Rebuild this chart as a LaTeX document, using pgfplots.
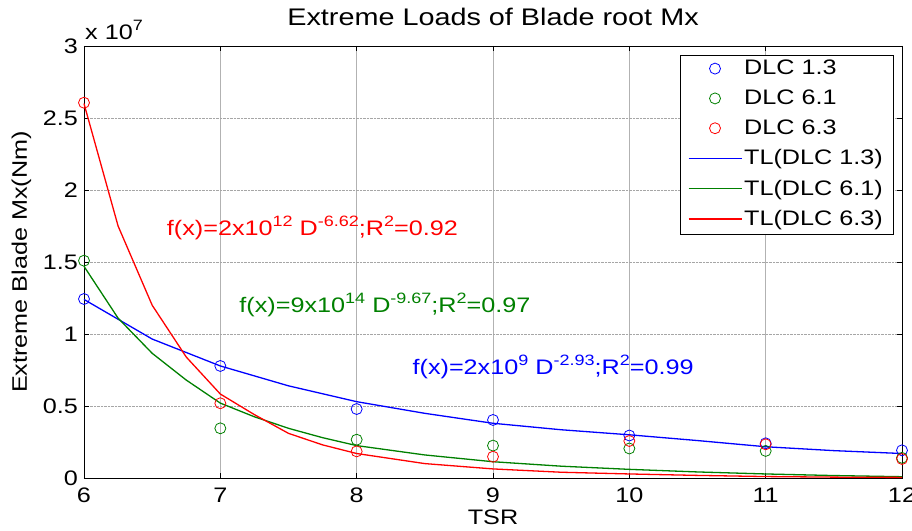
\documentclass[border=0pt]{standalone}
\usepackage{fontspec}
\setmainfont{Liberation Sans}[FakeStretch=1.2]
\usepackage{pgfplots}
\pgfplotsset{compat=1.18}
\definecolor{mblue}{rgb}{0,0,1}
\definecolor{mgreen}{rgb}{0,0.5,0}
\definecolor{mred}{rgb}{1,0,0}
\newcommand{\sups}[1]{\raisebox{9pt}{\fontsize{15}{15}\selectfont #1}}
\begin{document}
\fontsize{21}{24}\selectfont
\begin{tikzpicture}
\begin{axis}[
 scale only axis, width=818pt, height=432pt,
 xmin=6, xmax=12, ymin=0, ymax=3,
 clip=false,
 xtick={6,7,8,9,10,11,12},
 xticklabels={6,7,8,9,10,11,12},
 ytick={0,0.5,1,1.5,2,2.5,3},
 yticklabels={0,0.5,1,1.5,2,2.5,3},
 xticklabel style={yshift=-3pt},
 yticklabel style={xshift=1pt},
 tick align=inside, major tick length=5pt,
 tick style={black, line width=0.8pt},
 axis line style={black, line width=0.8pt},
 xmajorgrids, ymajorgrids,
 x grid style={gray!60, line width=0.8pt},
 y grid style={gray!70, densely dotted, line width=0.8pt},
 title={\fontsize{24}{26}\selectfont Extreme Loads of Blade root Mx},
 title style={at={(axis description cs:0.5,1.0347)}, anchor=base, inner sep=0pt, yshift=0pt},
 xlabel={TSR},
 xlabel style={at={(axis description cs:0.5,-0.1076)}, anchor=base, inner sep=0pt},
 ylabel={Extreme Blade Mx(Nm)},
 ylabel style={at={(axis description cs:-0.0697,0.5)}, anchor=base, inner sep=0pt},
 legend style={at={(axis description cs:1,1)}, anchor=north east, xshift=-9pt, yshift=-9pt,
   draw=black, fill=white, row sep=8pt, inner xsep=8pt, inner ysep=3pt,
   cells={anchor=west}},
 legend image code/.code={\draw[mark repeat=2,mark phase=2,#1] plot coordinates {(0pt,0.5pt) (26.5pt,0.5pt) (53pt,0.5pt)};},
]
\addplot[only marks, mark=o, mark size=5.5pt, color=mblue, line width=0.8pt] coordinates {
 (6,1.243) (7,0.778) (8,0.479) (9,0.403) (10,0.295) (11,0.241) (12,0.192)};
\addplot[only marks, mark=o, mark size=5.5pt, color=mgreen, line width=0.8pt] coordinates {
 (6,1.509) (7,0.345) (8,0.266) (9,0.225) (10,0.205) (11,0.188) (12,0.14)};
\addplot[only marks, mark=o, mark size=5.5pt, color=mred, line width=0.8pt] coordinates {
 (6,2.606) (7,0.519) (8,0.185) (9,0.148) (10,0.257) (11,0.234) (12,0.132)};
\addplot[no marks, draw=mblue, color=mblue, line width=1.3pt] coordinates {
 (6,1.24) (6.5,0.965) (7,0.778) (7.5,0.64) (8,0.53) (8.5,0.449) (9,0.38) (9.5,0.335)
 (10,0.30) (10.5,0.26) (11,0.217) (11.5,0.19) (12,0.17)};
\addplot[no marks, draw=mgreen, color=mgreen, line width=1.3pt] coordinates {
 (6,1.47) (6.25,1.11) (6.5,0.866) (6.75,0.68) (7,0.52) (7.25,0.425) (7.5,0.345) (7.75,0.28)
 (8,0.225) (8.5,0.16) (9,0.113) (9.5,0.082) (10,0.06) (10.5,0.042) (11,0.028) (11.5,0.017) (12,0.009)};
\addplot[no marks, draw=mred, color=mred, line width=1.3pt] coordinates {
 (6,2.6) (6.25,1.75) (6.5,1.2) (6.75,0.84) (7,0.583) (7.25,0.44) (7.5,0.31) (7.75,0.23)
 (8,0.17) (8.5,0.10) (9,0.063) (9.5,0.04) (10,0.028) (10.5,0.018) (11,0.01) (11.5,0.006) (12,0.004)};
\legend{DLC 1.3, DLC 6.1, DLC 6.3, TL(DLC 1.3), TL(DLC 6.1), TL(DLC 6.3)}
\node[anchor=base west, inner sep=0pt] at (rel axis cs:0,1) [yshift=6pt, xshift=1pt] {x 10\sups{7}};
\node[anchor=west, text=mred, inner sep=0pt] at (axis cs:6.607,1.736) {f(x)=2x10\sups{12} D\sups{-6.62};R\sups{2}=0.92};
\node[anchor=west, text=mgreen, inner sep=0pt] at (axis cs:7.139,1.20) {f(x)=9x10\sups{14} D\sups{-9.67};R\sups{2}=0.97};
\node[anchor=west, text=mblue, inner sep=0pt] at (axis cs:8.409,0.773) {f(x)=2x10\sups{9} D\sups{-2.93};R\sups{2}=0.99};
\end{axis}
\pgfresetboundingbox
\path (current axis.south west) ++(-84pt,-53pt) coordinate (bbsw);
\path (current axis.north east) ++(10pt,46pt) coordinate (bbne);
\path[use as bounding box] (bbsw) rectangle (bbne);
\end{tikzpicture}
\end{document}
